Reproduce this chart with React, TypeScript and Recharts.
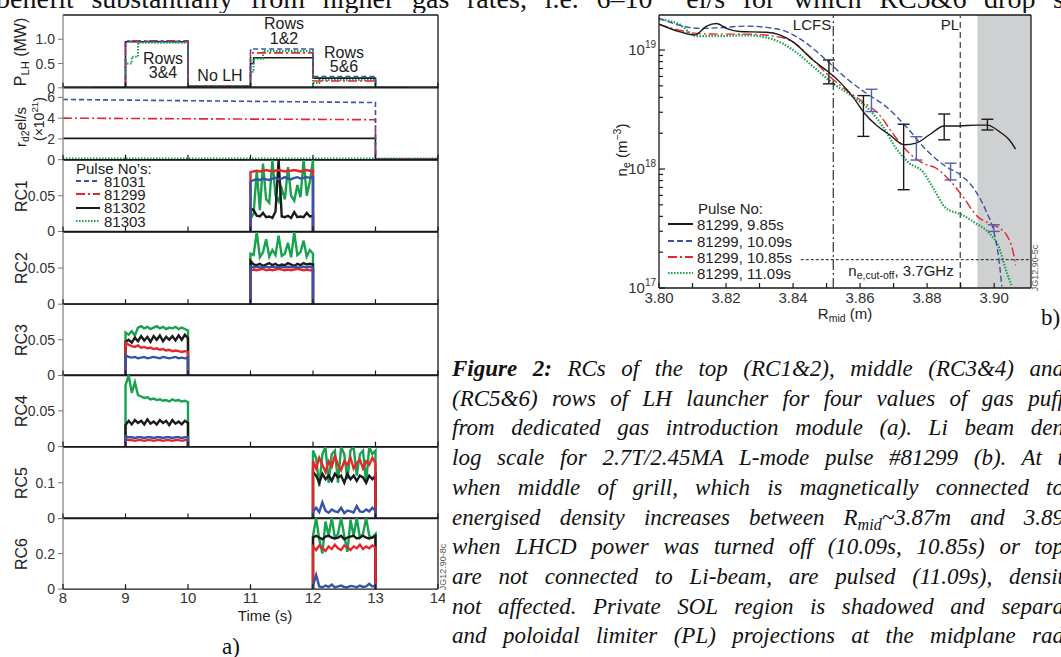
import React from 'react';
import {
  LineChart, Line, XAxis, YAxis, ReferenceLine, ReferenceArea,
  ComposedChart, Scatter, ErrorBar,
} from 'recharts';

const BLUE = '#3653a5';
const RED = '#e5262c';
const BLACK = '#1a1a1a';
const GREEN = '#17a24e';
const SANS = '"Liberation Sans", Arial, sans-serif';
const SERIF = '"Liberation Serif", "Times New Roman", serif';

// ---------- panel a) : LH power, gas rate and reflection coefficients ----------
const timeTicks = [8, 9, 10, 11, 12, 13, 14];

// P_LH (MW), step traces
const plhTimes = [8.5, 9.0, 9.1, 9.2, 10.0, 11.0, 11.05, 11.2, 12.0, 12.1, 13.0, 13.5];
const plh81031 = [0, 0.96, 0.96, 0.96, 0.03, 0.8, 0.8, 0.8, 0.23, 0.23, 0, 0];
const plh81299 = [0, 0.97, 0.97, 0.97, 0.03, 0.72, 0.72, 0.72, 0.14, 0.14, 0, 0];
const plh81302 = [0, 0.95, 0.95, 0.95, 0.03, 0.5, 0.62, 0.62, 0.2, 0.2, 0, 0];
const plh81303 = [0, 0.5, 0.64, 0.93, 0.03, 0.33, 0.6, 0.76, 0.1, 0.16, 0, 0];

// gas rate r_d2 (x10^21 el/s)
const gasTimes = [8, 13, 13, 14];
const gas81031 = [5.8, 5.5, 0.05, 0.05];
const gas81299 = [4.0, 3.85, 0.05, 0.05];
const gas81302 = [2.05, 2.05, 0.05, 0.05];
const gas81303 = [0.12, 0.12, 0.12, 0.12];

// sample times of the three LH windows
const win9 = [9, 9.05, 9.1, 9.15, 9.2, 9.25, 9.3, 9.35, 9.4, 9.45, 9.5, 9.55, 9.6, 9.65, 9.7, 9.75, 9.8, 9.85, 9.9, 9.95, 10];
const win11 = [11, 11.05, 11.1, 11.15, 11.2, 11.25, 11.3, 11.35, 11.4, 11.45, 11.5, 11.55, 11.6, 11.65, 11.7, 11.75, 11.8, 11.85, 11.9, 11.95, 12];
const win12 = [12, 12.05, 12.1, 12.15, 12.2, 12.25, 12.3, 12.35, 12.4, 12.45, 12.5, 12.55, 12.6, 12.65, 12.7, 12.75, 12.8, 12.85, 12.9, 12.95, 13];

// RC1 (rows 1&2 powered, 11-12 s)
const rc1_81031 = [0.07, 0.072, 0.073, 0.072, 0.074, 0.073, 0.072, 0.074, 0.075, 0.073, 0.074, 0.076, 0.074, 0.073, 0.075, 0.076, 0.074, 0.075, 0.076, 0.075, 0.076];
const rc1_81299 = [0.083, 0.084, 0.085, 0.084, 0.085, 0.086, 0.085, 0.084, 0.085, 0.086, 0.085, 0.084, 0.085, 0.085, 0.086, 0.085, 0.084, 0.085, 0.086, 0.085, 0.085];
const rc1_81302 = [0.032, 0.03, 0.022, 0.021, 0.026, 0.02, 0.021, 0.019, 0.028, 0.1, 0.021, 0.02, 0.022, 0.019, 0.027, 0.02, 0.021, 0.02, 0.026, 0.021, 0.022];
const rc1_81303 = [0.018, 0.025, 0.085, 0.03, 0.095, 0.045, 0.04, 0.1, 0.05, 0.042, 0.06, 0.045, 0.09, 0.05, 0.043, 0.065, 0.048, 0.1, 0.05, 0.07, 0.1];

// RC2
const rc2_81031 = [0.052, 0.051, 0.052, 0.051, 0.051, 0.052, 0.051, 0.052, 0.051, 0.051, 0.052, 0.051, 0.052, 0.051, 0.052, 0.051, 0.051, 0.052, 0.051, 0.052, 0.051];
const rc2_81299 = [0.047, 0.048, 0.047, 0.048, 0.049, 0.047, 0.048, 0.047, 0.048, 0.049, 0.048, 0.047, 0.048, 0.047, 0.048, 0.049, 0.048, 0.047, 0.048, 0.047, 0.048];
const rc2_81302 = [0.06, 0.055, 0.054, 0.056, 0.053, 0.055, 0.057, 0.054, 0.056, 0.053, 0.055, 0.054, 0.057, 0.055, 0.053, 0.056, 0.054, 0.057, 0.055, 0.056, 0.055];
const rc2_81303 = [0.07, 0.068, 0.1, 0.065, 0.072, 0.09, 0.066, 0.075, 0.068, 0.095, 0.067, 0.07, 0.085, 0.065, 0.1, 0.068, 0.072, 0.088, 0.066, 0.075, 0.07];

// RC3 (rows 3&4 powered, 9-10 s)
const rc3_81031 = [0.028, 0.026, 0.025, 0.026, 0.024, 0.025, 0.026, 0.024, 0.025, 0.026, 0.025, 0.024, 0.026, 0.025, 0.024, 0.025, 0.026, 0.024, 0.025, 0.024, 0.025];
const rc3_81299 = [0.046, 0.043, 0.041, 0.04, 0.042, 0.039, 0.04, 0.038, 0.039, 0.037, 0.038, 0.036, 0.037, 0.035, 0.036, 0.034, 0.035, 0.034, 0.033, 0.034, 0.033];
const rc3_81302 = [0.047, 0.05, 0.046, 0.053, 0.048, 0.055, 0.049, 0.054, 0.047, 0.055, 0.05, 0.056, 0.048, 0.054, 0.05, 0.055, 0.049, 0.056, 0.05, 0.057, 0.052];
const rc3_81303 = [0.06, 0.057, 0.062, 0.056, 0.067, 0.069, 0.066, 0.068, 0.065, 0.067, 0.069, 0.066, 0.068, 0.065, 0.067, 0.066, 0.068, 0.065, 0.067, 0.065, 0.063];

// RC4
const rc4_81031 = [0.014, 0.013, 0.013, 0.012, 0.013, 0.013, 0.012, 0.013, 0.013, 0.012, 0.013, 0.013, 0.012, 0.013, 0.013, 0.012, 0.013, 0.013, 0.012, 0.013, 0.013];
const rc4_81299 = [0.01, 0.009, 0.009, 0.008, 0.009, 0.009, 0.008, 0.009, 0.009, 0.008, 0.009, 0.009, 0.008, 0.009, 0.009, 0.008, 0.009, 0.009, 0.008, 0.009, 0.009];
const rc4_81302 = [0.03, 0.036, 0.031, 0.037, 0.033, 0.036, 0.031, 0.038, 0.032, 0.035, 0.031, 0.037, 0.033, 0.036, 0.03, 0.037, 0.032, 0.035, 0.031, 0.036, 0.033];
const rc4_81303 = [0.085, 0.1, 0.075, 0.09, 0.072, 0.07, 0.068, 0.069, 0.066, 0.067, 0.065, 0.066, 0.064, 0.065, 0.063, 0.066, 0.064, 0.065, 0.063, 0.064, 0.062];

// RC5 (rows 5&6 powered, 12-13 s)
const rc5_81031 = [0.02, 0.03, 0.018, 0.045, 0.022, 0.016, 0.025, 0.02, 0.018, 0.03, 0.015, 0.022, 0.02, 0.017, 0.035, 0.02, 0.018, 0.025, 0.02, 0.03, 0.022];
const rc5_81299 = [0.16, 0.14, 0.17, 0.15, 0.13, 0.16, 0.145, 0.175, 0.15, 0.135, 0.16, 0.15, 0.17, 0.14, 0.155, 0.165, 0.14, 0.16, 0.15, 0.17, 0.155];
const rc5_81302 = [0.13, 0.12, 0.1, 0.125, 0.11, 0.12, 0.105, 0.125, 0.115, 0.12, 0.1, 0.125, 0.11, 0.12, 0.105, 0.12, 0.115, 0.1, 0.12, 0.11, 0.12];
const rc5_81303 = [0.19, 0.17, 0.09, 0.18, 0.2, 0.1, 0.18, 0.19, 0.1, 0.2, 0.18, 0.11, 0.19, 0.2, 0.12, 0.18, 0.19, 0.1, 0.2, 0.18, 0.19];

// RC6
const rc6_81031 = [0.02, 0.08, 0.015, 0.01, 0.02, 0.012, 0.025, 0.01, 0.015, 0.02, 0.012, 0.01, 0.018, 0.015, 0.01, 0.02, 0.012, 0.015, 0.03, 0.015, 0.02];
const rc6_81299 = [0.24, 0.22, 0.245, 0.23, 0.215, 0.24, 0.225, 0.25, 0.23, 0.22, 0.245, 0.235, 0.22, 0.24, 0.23, 0.25, 0.225, 0.24, 0.23, 0.245, 0.235];
const rc6_81302 = [0.29, 0.3, 0.29, 0.28, 0.295, 0.3, 0.29, 0.285, 0.29, 0.3, 0.28, 0.29, 0.295, 0.3, 0.285, 0.29, 0.3, 0.29, 0.285, 0.29, 0.3];
const rc6_81303 = [0.3, 0.4, 0.28, 0.2, 0.38, 0.3, 0.4, 0.29, 0.31, 0.4, 0.3, 0.21, 0.39, 0.3, 0.4, 0.29, 0.31, 0.4, 0.3, 0.29, 0.31];

// ---------- panel b) : Li-beam density profiles ----------
const rTicks = [3.8, 3.81, 3.82, 3.83, 3.84, 3.85, 3.86, 3.87, 3.88, 3.89, 3.9];
const nTicks = [1e17, 2e17, 3e17, 4e17, 5e17, 6e17, 7e17, 8e17, 9e17, 1e18, 2e18, 3e18, 4e18, 5e18, 6e18, 7e18, 8e18, 9e18, 1e19];

const r985 = [3.8, 3.806, 3.8107, 3.8142, 3.8172, 3.8201, 3.824, 3.832, 3.836, 3.84, 3.846, 3.8504, 3.8539, 3.8578, 3.8613, 3.8648, 3.8688, 3.8732, 3.8767, 3.8807, 3.8851, 3.8896, 3.8945, 3.898, 3.9015, 3.9045, 3.9064];
const n985 = [1.65e19, 1.43e19, 1.34e19, 1.59e19, 1.67e19, 1.52e19, 1.43e19, 1.41e19, 1.34e19, 1.17e19, 8.2e18, 6.6e18, 5.4e18, 4.06e18, 2.94e18, 2.34e18, 1.94e18, 1.6e18, 1.65e18, 1.94e18, 2.3e18, 2.3e18, 2.34e18, 2.34e18, 2.07e18, 1.76e18, 1.47e18];
const r1009 = [3.8, 3.806, 3.812, 3.818, 3.826, 3.832, 3.838, 3.844, 3.85, 3.8559, 3.8618, 3.8678, 3.8737, 3.8797, 3.8856, 3.8906, 3.8945, 3.8975, 3.9, 3.9013, 3.9023];
const n1009 = [1.85e19, 1.62e19, 1.52e19, 1.54e19, 1.59e19, 1.55e19, 1.43e19, 1.14e19, 8.2e18, 5.8e18, 4.33e18, 3.34e18, 2.28e18, 1.45e18, 1.05e18, 8.65e17, 6.5e17, 4.5e17, 2.9e17, 1.85e17, 1.03e17];
const r1085 = [3.8, 3.806, 3.8112, 3.818, 3.826, 3.834, 3.839, 3.845, 3.8504, 3.8559, 3.8608, 3.8658, 3.8697, 3.8737, 3.8787, 3.8826, 3.8866, 3.8906, 3.895, 3.8985, 3.9015, 3.904, 3.9055, 3.9064];
const n1085 = [1.65e19, 1.47e19, 1.38e19, 1.36e19, 1.36e19, 1.31e19, 1.21e19, 8.8e18, 6.2e18, 4.6e18, 3.68e18, 2.85e18, 2.0e18, 1.45e18, 1.12e18, 1.02e18, 8.1e17, 5.9e17, 4.0e17, 3.5e17, 3.2e17, 2.7e17, 2.1e17, 1.55e17];
const r1109 = [3.8, 3.806, 3.8112, 3.818, 3.826, 3.834, 3.84, 3.846, 3.8519, 3.8578, 3.8628, 3.8668, 3.8707, 3.8747, 3.8787, 3.8816, 3.8856, 3.8906, 3.8945, 3.8985, 3.9015, 3.9035, 3.9053];
const n1109 = [1.81e19, 1.65e19, 1.31e19, 1.31e19, 1.33e19, 1.23e19, 1.0e19, 7.25e18, 5.25e18, 4.06e18, 3.14e18, 2.28e18, 1.5e18, 1.12e18, 9.5e17, 7.1e17, 4.7e17, 4.1e17, 3.5e17, 2.9e17, 2.17e17, 1.43e17, 1.03e17];

// error bars (low / high ends)
const ebR985 = [3.8507, 3.861, 3.873, 3.8851, 3.898];
const ebLow985 = [5.2e18, 1.88e18, 6.7e17, 1.76e18, 2.13e18];
const ebHigh985 = [8.25e18, 4.14e18, 2.38e18, 2.9e18, 2.62e18];
const ebR1009 = [3.8634, 3.8768, 3.887, 3.8999];
const ebLow1009 = [3.04e18, 1.19e18, 8.1e17, 2.99e17];
const ebHigh1009 = [4.68e18, 1.87e18, 1.12e18, 3.4e17];

const cutoffDensity = 1.73e17;

// ---------- helpers ----------
const zip = (ts: number[], a: number[], b: number[], c: number[], d: number[]) =>
  ts.map((t, i) => ({ t, s81031: a[i], s81299: b[i], s81302: c[i], s81303: d[i] }));

const rcRows = (ts: number[], a: number[], b: number[], c: number[], d: number[]) => {
  const zero = { s81031: 0, s81299: 0, s81302: 0, s81303: 0 };
  return [{ t: ts[0], ...zero }, ...zip(ts, a, b, c, d), { t: ts[ts.length - 1], ...zero }];
};

const profile = (rs: number[], ns: number[]) => rs.map((r, i) => ({ r, n: ns[i] }));
const bars = (rs: number[], lo: number[], hi: number[]) =>
  rs.map((r, i) => {
    const n = Math.sqrt(lo[i] * hi[i]);
    return { r, n, e: [n - lo[i], hi[i] - n] };
  });

const traces = [
  { key: 's81031', color: BLUE, dash: '5 3', label: '81031' },
  { key: 's81299', color: RED, dash: '9 3 2 3', label: '81299' },
  { key: 's81302', color: BLACK, dash: undefined, label: '81302' },
  { key: 's81303', color: GREEN, dash: '1.5 1.5', label: '81303' },
];

const TimeTick = (p: any) => (
  <g>
    <line x1={p.x} x2={p.x} y1={p.y} y2={p.y - 5} stroke={BLACK} strokeWidth={1.2} />
    {p.showLabel && (
      <text x={p.x} y={p.y + 14} textAnchor="middle" fontSize={15} fontFamily={SANS} fill="#333">
        {p.payload.value}
      </text>
    )}
  </g>
);

type StripProps = {
  top: number; bottom: number; rows: any[]; yMax: number; yTicks: number[];
  fmt: (v: number) => string; kind: 'step' | 'ramp' | 'rc'; last?: boolean;
};

function Strip({ top, bottom, rows, yMax, yTicks, fmt, kind, last }: StripProps) {
  const h = bottom - top;
  const axisH = last ? 20 : 1;
  const below = last ? 20 : 9;
  const order = kind === 'rc' ? [3, 2, 1, 0] : [2, 3, 1, 0];
  return (
    <div style={{ position: 'absolute', left: 0, top: top - 10 }}>
      <LineChart width={445} height={h + 10 + axisH + below} data={rows} margin={{ top: 10, right: 7, bottom: below, left: 0 }}>
        <XAxis dataKey="t" type="number" domain={[8, 14]} ticks={timeTicks} allowDataOverflow interval={0}
          height={axisH} tickSize={0} tickMargin={0} tickLine={false}
          axisLine={{ stroke: BLACK, strokeWidth: 1.3 }}
          tick={(p: any) => <TimeTick {...p} showLabel={!!last} />} />
        <YAxis type="number" domain={[0, yMax]} ticks={yTicks} allowDataOverflow interval={0} width={63}
          tickSize={5} tickMargin={3} tickFormatter={fmt}
          tick={{ fontSize: 14, fill: '#333', fontFamily: SANS }}
          tickLine={{ stroke: '#777' }} axisLine={{ stroke: '#888', strokeWidth: 1.3 }} />
        <ReferenceLine y={yMax} stroke={BLACK} strokeWidth={1.3} ifOverflow="visible" />
        <ReferenceLine x={14} stroke={BLACK} strokeWidth={1.3} ifOverflow="visible" />
        {order.map((i) => {
          const s = traces[i];
          return (
            <Line key={s.key} dataKey={s.key} type={kind === 'step' ? 'stepAfter' : 'linear'}
              stroke={s.color} strokeWidth={kind === 'rc' ? 2.4 : s.key === 's81303' ? 2 : 1.6}
              strokeDasharray={kind === 'rc' ? undefined : s.dash}
              dot={false} isAnimationActive={false} />
          );
        })}
      </LineChart>
    </div>
  );
}

const RTick = (p: any) => {
  const v = p.payload.value;
  const major = Math.round(v * 100) % 2 === 0;
  return (
    <g>
      <line x1={p.x} x2={p.x} y1={p.y} y2={p.y - 5} stroke={BLACK} strokeWidth={1.2} />
      {major && (
        <text x={p.x} y={p.y + 15} textAnchor="middle" fontSize={15} fontFamily={SANS} fill="#333">
          {v.toFixed(2)}
        </text>
      )}
    </g>
  );
};

const NTick = (p: any) => {
  const ex = Math.log10(p.payload.value);
  const major = Math.abs(ex - Math.round(ex)) < 1e-6;
  return (
    <g>
      <line x1={p.x} x2={p.x + (major ? 6 : 4)} y1={p.y} y2={p.y} stroke={BLACK} strokeWidth={1.2} />
      {major && (
        <text x={p.x - 3} y={p.y + 5} textAnchor="end" fontSize={15} fontFamily={SANS} fill="#333">
          10<tspan dy={-7} fontSize={10}>{Math.round(ex)}</tspan>
        </text>
      )}
    </g>
  );
};

function DensityPanel() {
  const noShape = () => <g />;
  return (
    <div style={{ position: 'absolute', left: 600, top: 0 }}>
      <ComposedChart width={440} height={330} margin={{ top: 15, right: 9, bottom: 0, left: 0 }}>
        <XAxis dataKey="r" type="number" domain={[3.8, 3.911]} ticks={rTicks} allowDataOverflow interval={0}
          height={42} tickSize={0} tickMargin={0} tickLine={false}
          axisLine={{ stroke: BLACK, strokeWidth: 1.3 }} tick={(p: any) => <RTick {...p} />} />
        <YAxis type="number" scale="log" domain={[1e17, 1.97e19]} ticks={nTicks} allowDataOverflow interval={0}
          width={59} tickSize={0} tickMargin={0} tickLine={false}
          axisLine={{ stroke: BLACK, strokeWidth: 1.3 }} tick={(p: any) => <NTick {...p} />} />
        <ReferenceArea x1={3.895} x2={3.911} y1={1e17} y2={1.97e19} fill="#cfd0d2" fillOpacity={1} stroke="none" ifOverflow="visible" />
        <ReferenceLine y={1.97e19} stroke={BLACK} strokeWidth={1.3} ifOverflow="visible" />
        <ReferenceLine x={3.911} stroke={BLACK} strokeWidth={1.3} ifOverflow="visible" />
        <ReferenceLine x={3.852} stroke="#333" strokeWidth={1.2} strokeDasharray="10 3 2 3" ifOverflow="visible" />
        <ReferenceLine x={3.8899} stroke="#555" strokeWidth={1.4} strokeDasharray="6 4" ifOverflow="visible" />
        <ReferenceLine segment={[{ x: 3.8423, y: cutoffDensity }, { x: 3.911, y: cutoffDensity }]}
          stroke={BLACK} strokeWidth={1} strokeDasharray="3 2" ifOverflow="visible" />
        <Line data={profile(r1109, n1109)} dataKey="n" type="monotone" stroke={GREEN} strokeWidth={2.2}
          strokeDasharray="1.5 1.5" dot={false} isAnimationActive={false} />
        <Line data={profile(r1085, n1085)} dataKey="n" type="monotone" stroke={RED} strokeWidth={1.4}
          strokeDasharray="9 3 2 3" dot={false} isAnimationActive={false} />
        <Line data={profile(r1009, n1009)} dataKey="n" type="monotone" stroke={BLUE} strokeWidth={1.4}
          strokeDasharray="6 3" dot={false} isAnimationActive={false} />
        <Line data={profile(r985, n985)} dataKey="n" type="monotone" stroke={BLACK} strokeWidth={1.4}
          dot={false} isAnimationActive={false} />
        <Scatter data={bars(ebR1009, ebLow1009, ebHigh1009)} dataKey="n" shape={noShape} isAnimationActive={false}>
          <ErrorBar dataKey="e" direction="y" width={6} stroke="#5560a8" strokeWidth={1.4} />
        </Scatter>
        <Scatter data={bars(ebR985, ebLow985, ebHigh985)} dataKey="n" shape={noShape} isAnimationActive={false}>
          <ErrorBar dataKey="e" direction="y" width={6} stroke={BLACK} strokeWidth={1.4} />
        </Scatter>
      </ComposedChart>
    </div>
  );
}

// ---------- text helpers ----------
function T({ x, y, size = 15, rot = false, family = SANS, color = '#222', children }: any) {
  return (
    <div style={{
      position: 'absolute', left: x, top: y, fontFamily: family, fontSize: size, color,
      whiteSpace: 'nowrap', lineHeight: 1, textAlign: 'center',
      transform: `translate(-50%, -50%)${rot ? ' rotate(-90deg)' : ''}`,
    }}>{children}</div>
  );
}

function Key({ x, y, color, dash, label, len = 24, size = 15 }: any) {
  return (
    <div style={{
      position: 'absolute', left: x, top: y - 9, height: 18, display: 'flex', alignItems: 'center',
      fontFamily: SANS, fontSize: size, color: '#222', whiteSpace: 'nowrap',
    }}>
      <svg width={len} height={6} style={{ marginRight: 4 }}>
        <line x1={0} x2={len} y1={3} y2={3} stroke={color} strokeWidth={2} strokeDasharray={dash} />
      </svg>
      {label}
    </div>
  );
}

// justified, clipped text line (the page text runs past the right edge)
function JLine({ x, y, w, size, lh, italic = false, children }: any) {
  return (
    <div style={{
      position: 'absolute', left: x, top: y, width: w, fontFamily: SERIF, fontSize: size,
      fontStyle: italic ? 'italic' : 'normal', lineHeight: `${lh}px`, height: lh, overflow: 'hidden', color: '#111',
      textAlign: 'justify', textAlignLast: 'justify', whiteSpace: 'normal',
    }}>{children}</div>
  );
}

const S = [14.5, 87.3, 160, 231.5, 303.7, 375.2, 446.8, 518.3, 589.4];
const f2 = (v: number) => (v === 0 ? '0' : String(v));

const captionLines = [
  <><b>Figure 2:</b> RCs of the top (RC1&amp;2), middle (RC3&amp;4) and</>,
  <>(RC5&amp;6) rows of LH launcher for four values of gas puff</>,
  <>from dedicated gas introduction module (a). Li beam den</>,
  <>log scale for 2.7T/2.45MA L-mode pulse #81299 (b). At t</>,
  <>when middle of grill, which is magnetically connected to</>,
  <>energised density increases between R<span style={{ fontSize: '0.7em', verticalAlign: '-0.3em' }}>mid</span>~3.87m and 3.89</>,
  <>when LHCD power was turned off (10.09s, 10.85s) or top</>,
  <>are not connected to Li-beam, are pulsed (11.09s), densit</>,
  <>not affected. Private SOL region is shadowed and separa</>,
  <>and poloidal limiter (PL) projections at the midplane rad</>,
];

export default function App() {
  const sub = { fontSize: '0.7em', verticalAlign: '-0.25em' };
  return (
    <div style={{ position: 'absolute', left: 0, top: 0, width: 1061, height: 657, overflow: 'hidden', background: '#fff' }}>
      {/* running text of the page above the figure, cut by the top edge */}
      <JLine x={-4} y={-15} w={1068} size={28} lh={28}>
        benefit substantially from higher gas rates, i.e. 6–10<sup style={{ fontSize: 16, lineHeight: 0 }}>21</sup> el/s for which RC5&amp;6 drop s
      </JLine>

      <Strip top={S[0]} bottom={S[1]} rows={zip(plhTimes, plh81031, plh81299, plh81302, plh81303)} yMax={1.5}
        yTicks={[0, 0.5, 1]} fmt={(v) => (v === 0 ? '0' : v.toFixed(1))} kind="step" />
      <Strip top={S[1]} bottom={S[2]} rows={zip(gasTimes, gas81031, gas81299, gas81302, gas81303)} yMax={7}
        yTicks={[0, 2, 4, 6]} fmt={f2} kind="ramp" />
      <Strip top={S[2]} bottom={S[3]} rows={rcRows(win11, rc1_81031, rc1_81299, rc1_81302, rc1_81303)} yMax={0.1}
        yTicks={[0, 0.05]} fmt={f2} kind="rc" />
      <Strip top={S[3]} bottom={S[4]} rows={rcRows(win11, rc2_81031, rc2_81299, rc2_81302, rc2_81303)} yMax={0.1}
        yTicks={[0, 0.05]} fmt={f2} kind="rc" />
      <Strip top={S[4]} bottom={S[5]} rows={rcRows(win9, rc3_81031, rc3_81299, rc3_81302, rc3_81303)} yMax={0.1}
        yTicks={[0, 0.05]} fmt={f2} kind="rc" />
      <Strip top={S[5]} bottom={S[6]} rows={rcRows(win9, rc4_81031, rc4_81299, rc4_81302, rc4_81303)} yMax={0.1}
        yTicks={[0, 0.05]} fmt={f2} kind="rc" />
      <Strip top={S[6]} bottom={S[7]} rows={rcRows(win12, rc5_81031, rc5_81299, rc5_81302, rc5_81303)} yMax={0.2}
        yTicks={[0, 0.1]} fmt={f2} kind="rc" />
      <Strip top={S[7]} bottom={S[8]} rows={rcRows(win12, rc6_81031, rc6_81299, rc6_81302, rc6_81303)} yMax={0.4}
        yTicks={[0, 0.2]} fmt={f2} kind="rc" last />

      {/* panel a labels */}
      <T x={22} y={52} size={16} rot>P<span style={sub}>LH</span> (MW)</T>
      <T x={22} y={127} size={15} rot>r<span style={sub}>d2</span>el/s</T>
      <T x={38} y={119} size={14} rot>(×10<sup style={{ fontSize: '0.7em' }}>21</sup>)</T>
      <T x={22} y={196} size={16} rot>RC1</T>
      <T x={22} y={268} size={16} rot>RC2</T>
      <T x={22} y={340} size={16} rot>RC3</T>
      <T x={22} y={411} size={16} rot>RC4</T>
      <T x={22} y={483} size={16} rot>RC5</T>
      <T x={22} y={554} size={16} rot>RC6</T>
      <T x={163} y={59} size={16}>Rows</T>
      <T x={163} y={73} size={16}>3&amp;4</T>
      <T x={220} y={76} size={16}>No LH</T>
      <T x={284} y={24} size={16}>Rows</T>
      <T x={284} y={39} size={16}>1&amp;2</T>
      <T x={344} y={53} size={16}>Rows</T>
      <T x={344} y={67} size={16}>5&amp;6</T>
      <T x={265} y={615} size={15}>Time (s)</T>
      <T x={231} y={646} size={23} family={SERIF} color="#111">a)</T>
      <T x={443} y={567} size={9} rot color="#555">JG12.90-8c</T>

      <div style={{ position: 'absolute', left: 76, top: 160, fontFamily: SANS, fontSize: 15, color: '#222' }}>Pulse No’s:</div>
      {traces.map((s, i) => (
        <Key key={s.key} x={76} y={181 + i * 13.4} color={s.color} dash={s.dash} label={s.label} />
      ))}

      {/* panel b */}
      <DensityPanel />
      <T x={622} y={150} size={15} rot>n<span style={sub}>e</span> (m<sup style={{ fontSize: '0.7em' }}>−3</sup>)</T>
      <T x={845} y={315} size={15}>R<span style={sub}>mid</span> (m)</T>
      <T x={812} y={24} size={15}>LCFS</T>
      <T x={950} y={24} size={15}>PL</T>
      <T x={901} y={272} size={15}>n<span style={sub}>e,cut-off</span>, 3.7GHz</T>
      <T x={1035} y={268} size={9} rot color="#555">JG12.90-5c</T>
      <div style={{ position: 'absolute', left: 698, top: 200, fontFamily: SANS, fontSize: 15, color: '#222' }}>Pulse No:</div>
      <Key x={668} y={224} color={BLACK} label="81299, 9.85s" len={25} />
      <Key x={668} y={241} color={BLUE} dash="6 3" label="81299, 10.09s" len={25} />
      <Key x={668} y={257} color={RED} dash="9 3 2 3" label="81299, 10.85s" len={25} />
      <Key x={668} y={273} color={GREEN} dash="1.5 1.5" label="81299, 11.09s" len={25} />
      <div style={{ position: 'absolute', left: 1041, top: 305, fontFamily: SERIF, fontSize: 23, color: '#111' }}>b)</div>

      {/* figure caption, justified and cut at the right edge */}
      {captionLines.map((ln, i) => (
        <JLine key={i} x={452} y={354 + i * 29.7} w={612} size={23} lh={29.7} italic>{ln}</JLine>
      ))}
    </div>
  );
}
